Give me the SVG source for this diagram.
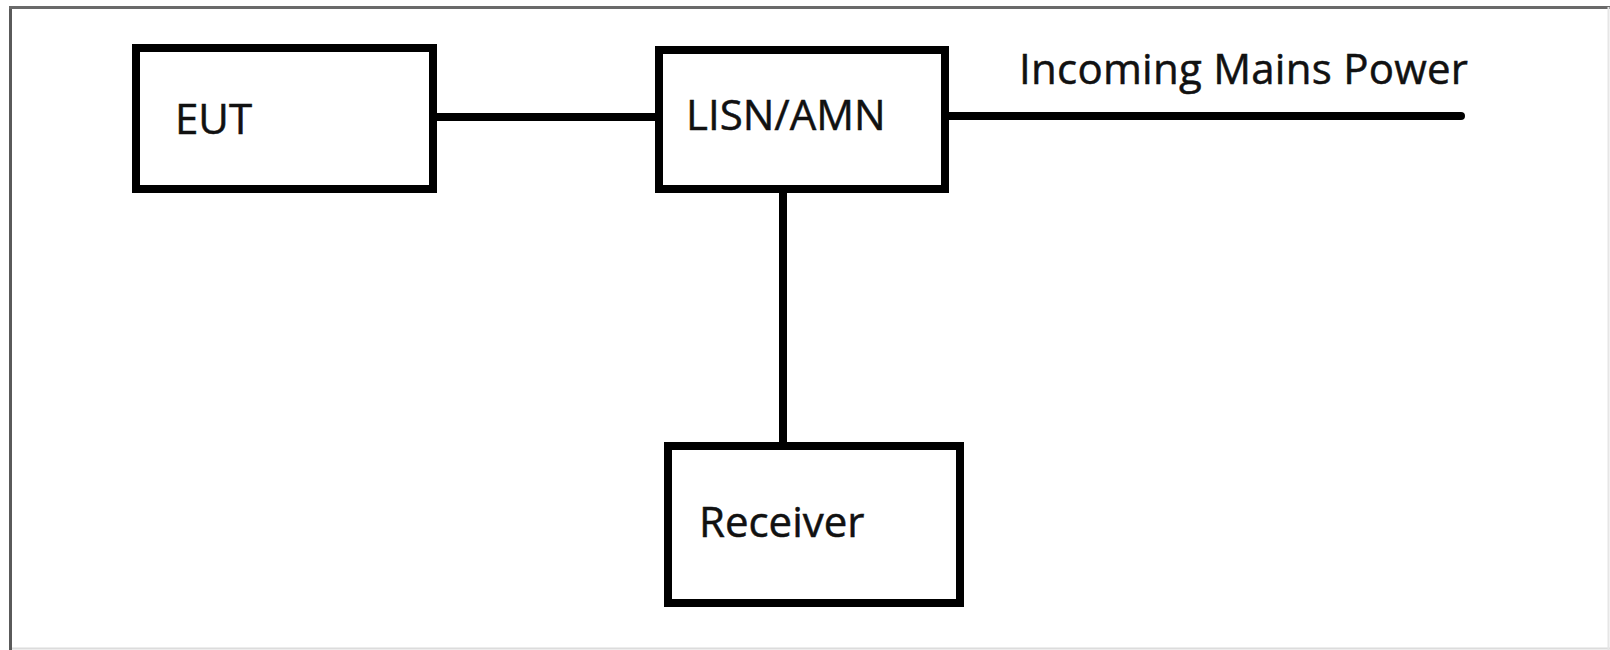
<svg xmlns="http://www.w3.org/2000/svg" width="1610" height="650" viewBox="0 0 1610 650">
<style>
.box{fill:#fff;stroke:#000;stroke-width:8}
.wire{stroke:#000;stroke-width:8;fill:none}
.lbl{font-family:"Open Sans","Noto Sans",sans-serif;font-size:42px;fill:#111;stroke:#111;stroke-width:0.5}
</style>
<rect x="0" y="0" width="1610" height="650" fill="#fff"/>
<g id="frame">
<line x1="10.5" y1="6" x2="10.5" y2="650" stroke="#5a5a5a" stroke-width="3"/>
<line x1="9" y1="7.5" x2="1610" y2="7.5" stroke="#6a6a6a" stroke-width="3"/>
<line x1="12" y1="648.5" x2="1610" y2="648.5" stroke="#dcdcdc" stroke-width="2"/>
<line x1="1608.5" y1="7" x2="1608.5" y2="650" stroke="#e6e6e6" stroke-width="2"/>
</g>
<g id="connectors">
<line class="wire" x1="437" y1="117" x2="655" y2="117"/>
<line class="wire" x1="949" y1="116" x2="1461" y2="116" stroke-linecap="round"/>
<line class="wire" x1="783" y1="193" x2="783" y2="442"/>
</g>
<g id="eut">
<rect class="box" x="136" y="48" width="297" height="141"/>
<text class="lbl" x="175" y="134">EUT</text>
</g>
<g id="lisn">
<rect class="box" x="659" y="50" width="286" height="139"/>
<text class="lbl" x="686" y="130">LISN/AMN</text>
</g>
<g id="mains">
<text class="lbl" x="1019" y="84" textLength="449">Incoming Mains Power</text>
</g>
<g id="receiver">
<rect class="box" x="668" y="446" width="292" height="157"/>
<text class="lbl" x="699" y="537">Receiver</text>
</g>
</svg>
